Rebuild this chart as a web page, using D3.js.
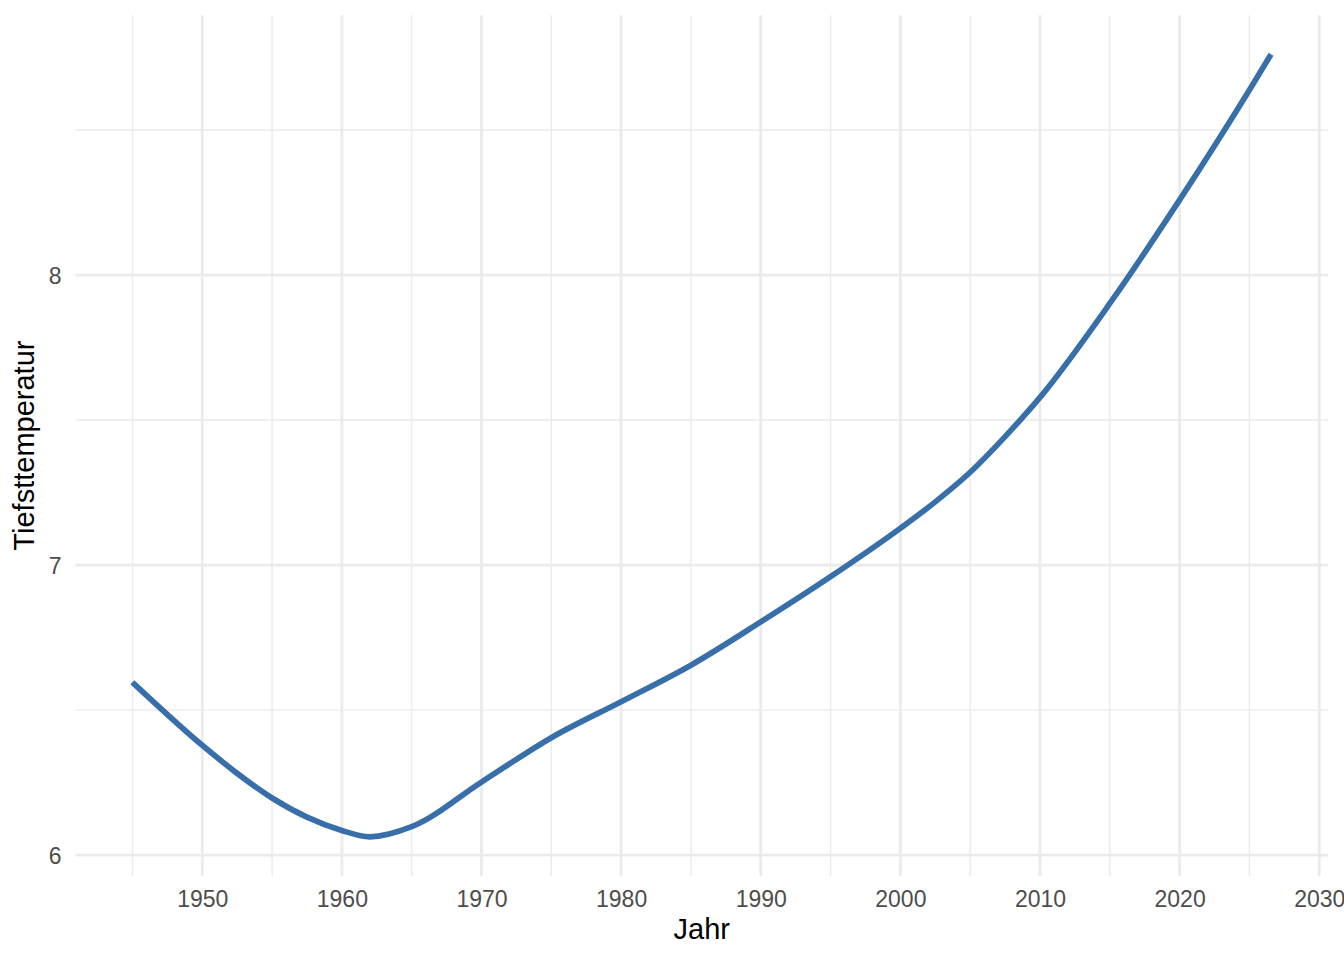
<!DOCTYPE html>
<html>
<head>
<meta charset="utf-8">
<script src="https://cdn.jsdelivr.net/npm/d3@7"></script>
<style>
  html, body { margin: 0; padding: 0; background: #ffffff; }
  svg { display: block; font-family: "Liberation Sans", Arial, Helvetica, sans-serif; }
</style>
</head>
<body>
<svg id="chart" width="1344" height="960"></svg>
<script>
// Data (smoothed trend of minimum temperature)
const years  = [1945, 1950, 1952.5, 1955, 1957.5, 1960, 1962, 1965, 1970, 1975, 1980, 1985, 1990, 1995, 2000, 2002.5, 2005, 2007.5, 2010, 2015, 2020, 2025, 2026.55];
const values = [6.596, 6.379, 6.282, 6.197, 6.131, 6.085, 6.063, 6.098, 6.252, 6.405, 6.529, 6.655, 6.804, 6.960, 7.127, 7.218, 7.320, 7.443, 7.578, 7.902, 8.259, 8.638, 8.761];
const xMajorTicks = [1950, 1960, 1970, 1980, 1990, 2000, 2010, 2020, 2030];
const xMinorTicks = [1945, 1955, 1965, 1975, 1985, 1995, 2005, 2015, 2025];
const yMajorTicks = [6, 7, 8];
const yMinorTicks = [6.5, 7.5, 8.5];
const xTitle = "Jahr";
const yTitle = "Tiefsttemperatur";

const W = 1344, H = 960;
const panel = { left: 75.5, right: 1328, top: 15.2, bottom: 876 };

const data = years.map((y, i) => ({ x: y, y: values[i] }));

function expand(ext) {
  const r = ext[1] - ext[0];
  return [ext[0] - 0.05 * r, ext[1] + 0.05 * r];
}

const x = d3.scaleLinear().domain(expand(d3.extent(years))).range([panel.left, panel.right]);
const y = d3.scaleLinear().domain(expand(d3.extent(values))).range([panel.bottom, panel.top]);

const svg = d3.select("#chart");
const grid = svg.append("g");
const gridCol = "#EBEBEB";

// minor grid
grid.selectAll(".xminor").data(xMinorTicks).join("line")
  .attr("x1", d => x(d)).attr("x2", d => x(d))
  .attr("y1", panel.top).attr("y2", panel.bottom)
  .attr("stroke", gridCol).attr("stroke-width", 1.42);
grid.selectAll(".yminor").data(yMinorTicks).join("line")
  .attr("x1", panel.left).attr("x2", panel.right)
  .attr("y1", d => y(d)).attr("y2", d => y(d))
  .attr("stroke", gridCol).attr("stroke-width", 1.42);
// major grid
grid.selectAll(".xmajor").data(xMajorTicks).join("line")
  .attr("x1", d => x(d)).attr("x2", d => x(d))
  .attr("y1", panel.top).attr("y2", panel.bottom)
  .attr("stroke", gridCol).attr("stroke-width", 2.84);
grid.selectAll(".ymajor").data(yMajorTicks).join("line")
  .attr("x1", panel.left).attr("x2", panel.right)
  .attr("y1", d => y(d)).attr("y2", d => y(d))
  .attr("stroke", gridCol).attr("stroke-width", 2.84);

// axes (labels only, via d3 axis generators)
const xAxis = d3.axisBottom(x).tickValues(xMajorTicks).tickFormat(d3.format("d")).tickSize(0).tickPadding(0);
const gx = svg.append("g").attr("transform", `translate(0,${panel.bottom})`).call(xAxis);
gx.select(".domain").remove();
gx.selectAll("text").attr("font-size", 23).attr("fill", "#4D4D4D")
  .attr("font-family", "Liberation Sans, Arial, sans-serif")
  .attr("dy", null).attr("y", 30.5);

const yAxis = d3.axisLeft(y).tickValues(yMajorTicks).tickFormat(d3.format("d")).tickSize(0).tickPadding(0);
const gy = svg.append("g").attr("transform", `translate(${panel.left},0)`).call(yAxis);
gy.select(".domain").remove();
gy.selectAll("text").attr("font-size", 23).attr("fill", "#4D4D4D")
  .attr("font-family", "Liberation Sans, Arial, sans-serif")
  .attr("dy", null).attr("x", -14).attr("y", 8.3);

// line
const line = d3.line().x(d => x(d.x)).y(d => y(d.y)).curve(d3.curveMonotoneX);
svg.append("path").datum(data)
  .attr("d", line)
  .attr("fill", "none")
  .attr("stroke", "#386FAB")
  .attr("stroke-width", 5.7);

// titles
svg.append("text")
  .attr("x", (panel.left + panel.right) / 2).attr("y", 939)
  .attr("text-anchor", "middle").attr("font-size", 29).attr("fill", "#000")
  .text(xTitle);
svg.append("text")
  .attr("transform", `translate(33.5,${(panel.top + panel.bottom) / 2}) rotate(-90)`)
  .attr("text-anchor", "middle").attr("font-size", 29).attr("fill", "#000")
  .text(yTitle);
</script>
</body>
</html>
